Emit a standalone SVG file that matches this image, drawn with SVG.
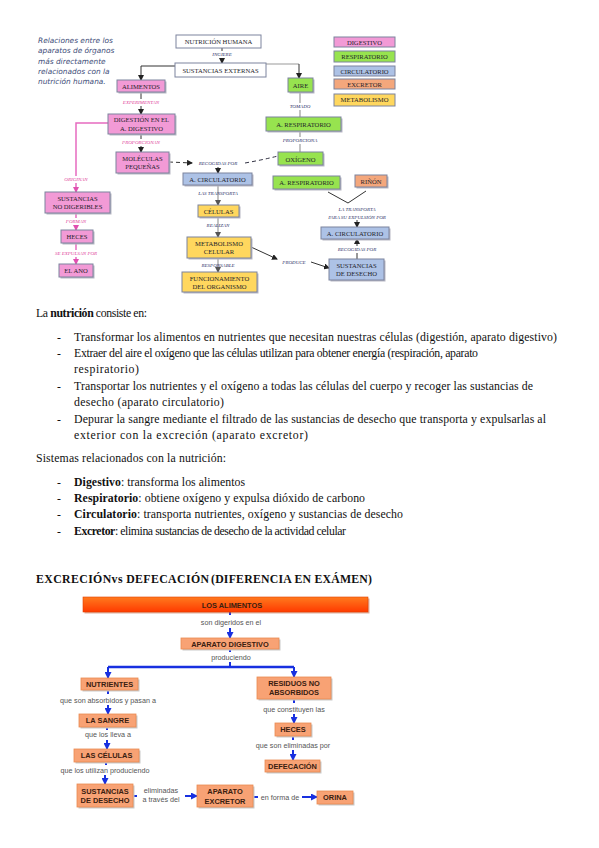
<svg xmlns="http://www.w3.org/2000/svg" width="599" height="848" viewBox="0 0 599 848">
<defs>
<style>
.bx{stroke:#7d849e;stroke-width:1}
.sh{fill:#b8b8c4}
.pk{fill:#f29ad6}
.gr{fill:#97e34f}
.bl{fill:#adc2e6}
.ye{fill:#ffd75e}
.or{fill:#f4a77c}
.wh{fill:#ffffff}
.t{font-family:"Liberation Serif",serif;font-size:6.6px;fill:#1e1e2a;text-anchor:middle}
.lb{font-family:"Liberation Serif",serif;font-style:italic;font-size:5px;fill:#2a2f66;text-anchor:middle}
.lp{font-family:"Liberation Serif",serif;font-style:italic;font-size:5px;fill:#e0409a;text-anchor:middle}
.cap{font-family:"DejaVu Sans",sans-serif;font-style:italic;font-size:7.4px;fill:#3e4d78}
.ln{stroke:#333;stroke-width:1;fill:none}
.lg{stroke:#9a9a9a;stroke-width:1.2;fill:none}
.lpk{stroke:#e66bc0;stroke-width:1.5;fill:none}
.tx{font-family:"Liberation Serif",serif;font-size:11.8px;fill:#111}
.b{font-weight:bold}
.ob{fill:#f8a274;stroke:#e98a52;stroke-width:0.8}
.osh{fill:#c9c9c9}
.bt{font-family:"Liberation Sans",Arial,sans-serif;font-weight:bold;font-size:7.4px;fill:#3a2010;text-anchor:middle}
.bl2{font-family:"Liberation Sans",Arial,sans-serif;font-size:7.2px;fill:#555;text-anchor:middle}
.blu{stroke:#1830e0;stroke-width:2;fill:none}
</style>
<marker id="ak" markerWidth="6" markerHeight="6" refX="5" refY="3" orient="auto" markerUnits="userSpaceOnUse"><path d="M0,0 L6,3 L0,6 z" fill="#222"/></marker>
<marker id="ag" markerWidth="6" markerHeight="6" refX="5" refY="3" orient="auto" markerUnits="userSpaceOnUse"><path d="M0,0 L6,3 L0,6 z" fill="#555"/></marker>
<marker id="ap" markerWidth="6" markerHeight="6" refX="5" refY="3" orient="auto" markerUnits="userSpaceOnUse"><path d="M0,0 L6,3 L0,6 z" fill="#e050b0"/></marker>
<marker id="ab" markerWidth="7" markerHeight="7" refX="6" refY="3.5" orient="auto" markerUnits="userSpaceOnUse"><path d="M0,0 L7,3.5 L0,7 z" fill="#1830e0"/></marker>
<linearGradient id="rg" x1="0" y1="0" x2="0" y2="1"><stop offset="0" stop-color="#ff7a1e"/><stop offset="1" stop-color="#ff3a00"/></linearGradient>
</defs>
<rect width="599" height="848" fill="#ffffff"/>

<!-- caption -->
<g id="caption">
<text class="cap" x="38" y="43">Relaciones entre los</text>
<text class="cap" x="38" y="53">aparatos de órganos</text>
<text class="cap" x="38" y="64">más directamente</text>
<text class="cap" x="38" y="74">relacionados con la</text>
<text class="cap" x="38" y="84">nutrición humana.</text>
</g>

<!-- top connectors -->
<g id="top-connectors">
<line class="ln" x1="222" y1="48" x2="222" y2="63" marker-end="url(#ak)"/>
<polyline class="ln" points="175,66 141,66 141,80" marker-end="url(#ak)"/>
<polyline class="lg" points="266,64 299,64" />
<line class="ln" x1="299" y1="64" x2="299" y2="78" marker-end="url(#ak)"/>
<line class="ln" x1="141" y1="92" x2="141" y2="114" marker-end="url(#ak)"/>
<line class="ln" x1="141" y1="134" x2="141" y2="152" marker-end="url(#ak)"/>
<polyline class="lpk" points="108,123 76,123 76,192" marker-end="url(#ap)"/>
<line class="lpk" x1="76" y1="213" x2="76" y2="230" marker-end="url(#ap)"/>
<line class="lpk" x1="76" y1="243" x2="76" y2="264" marker-end="url(#ap)"/>
<line x1="169" y1="162" x2="192" y2="163" stroke="#333" stroke-width="1" stroke-dasharray="4,3" marker-end="url(#ak)"/>
<path d="M245,163 Q262,160 278,156" stroke="#334" stroke-width="1" fill="none" stroke-dasharray="4,3"/>
<line class="ln" x1="218" y1="167" x2="218" y2="173" marker-end="url(#ak)"/>
<line class="lg" x1="300" y1="92" x2="300" y2="117"/>
<line class="lg" x1="300" y1="131" x2="300" y2="152"/>
<line class="lg" x1="218" y1="185" x2="218" y2="205" marker-end="url(#ag)"/>
<line class="lg" x1="218" y1="217" x2="218" y2="237" marker-end="url(#ag)"/>
<line class="lg" x1="218" y1="258" x2="218" y2="272" marker-end="url(#ag)"/>
<line class="ln" x1="251" y1="247" x2="277" y2="259" marker-end="url(#ak)"/>
<line class="ln" x1="311" y1="262" x2="329" y2="268" marker-end="url(#ak)"/>
<polyline class="ln" points="328,192 348,203 366,191"/>
<line class="ln" x1="357" y1="220" x2="357" y2="227" marker-end="url(#ak)"/>
<line class="ln" x1="357" y1="259" x2="357" y2="239" marker-end="url(#ak)"/>
</g>

<!-- top labels -->
<g id="top-labels">
<rect x="202" y="51" width="40" height="7" fill="#fff"/>
<text class="lb" x="222" y="56">INGIERE</text>
<rect x="116" y="99" width="50" height="7" fill="#fff"/>
<text class="lp" x="141" y="104">EXPERIMENTAN</text>
<rect x="116" y="139" width="50" height="7" fill="#fff"/>
<text class="lp" x="141" y="144">PROPORCIONAN</text>
<rect x="56" y="176" width="40" height="7" fill="#fff"/>
<text class="lp" x="76" y="181">ORIGINAN</text>
<rect x="60" y="218" width="32" height="7" fill="#fff"/>
<text class="lp" x="76" y="223">FORMAN</text>
<rect x="48" y="250" width="56" height="7" fill="#fff"/>
<text class="lp" x="76" y="255">SE EXPULSAN POR</text>
<text class="lb" x="218" y="165">RECOGIDAS POR</text>
<rect x="285" y="103" width="30" height="7" fill="#fff"/>
<text class="lb" x="300" y="108">TOMADO</text>
<rect x="278" y="137" width="44" height="7" fill="#fff"/>
<text class="lb" x="300" y="142">PROPORCIONA</text>
<text class="lb" x="218" y="195">LAS TRANSPORTA</text>
<text class="lb" x="218" y="227">REALIZAN</text>
<text class="lb" x="218" y="267">RESPONSABLE</text>
<text class="lb" x="294" y="264">PRODUCE</text>
<text class="lb" x="357" y="211">LA TRANSPORTA</text>
<text class="lb" x="357" y="219">PARA SU EXPULSIÓN POR</text>
<rect x="333" y="246" width="48" height="7" fill="#fff"/>
<text class="lb" x="357" y="251">RECOGIDAS POR</text>
</g>

<!-- top nodes -->
<g id="n-nutricion"><rect class="bx wh" x="176" y="35" width="85" height="13"/><text class="t" x="218.5" y="44">NUTRICIÓN HUMANA</text></g>
<g id="n-sustancias-ext"><rect class="bx wh" x="175" y="63" width="91" height="14"/><text class="t" x="220.5" y="72.5">SUSTANCIAS EXTERNAS</text></g>
<g id="n-alimentos"><rect class="sh" x="118.5" y="81.5" width="48" height="12"/><rect class="bx pk" x="117" y="80" width="48" height="12"/><text class="t" x="141" y="88.5">ALIMENTOS</text></g>
<g id="n-digestion"><rect class="sh" x="109.5" y="115.5" width="67" height="20"/><rect class="bx pk" x="108" y="114" width="67" height="20"/><text class="t" x="141.5" y="122">DIGESTIÓN EN EL</text><text class="t" x="141.5" y="130.5">A. DIGESTIVO</text></g>
<g id="n-moleculas"><rect class="sh" x="117.5" y="153.5" width="53" height="21"/><rect class="bx pk" x="116" y="152" width="53" height="21"/><text class="t" x="142.5" y="160.5">MOLÉCULAS</text><text class="t" x="142.5" y="169">PEQUEÑAS</text></g>
<g id="n-no-digeribles"><rect class="sh" x="46.5" y="193.5" width="65" height="21"/><rect class="bx pk" x="45" y="192" width="65" height="21"/><text class="t" x="77.5" y="200.5">SUSTANCIAS</text><text class="t" x="77.5" y="209">NO DIGERIBLES</text></g>
<g id="n-heces-top"><rect class="sh" x="62.5" y="231.5" width="32" height="13"/><rect class="bx pk" x="61" y="230" width="32" height="13"/><text class="t" x="77" y="239">HECES</text></g>
<g id="n-ano"><rect class="sh" x="60.5" y="265.5" width="34" height="13"/><rect class="bx pk" x="59" y="264" width="34" height="13"/><text class="t" x="76" y="273">EL ANO</text></g>
<g id="n-aire"><rect class="sh" x="289.5" y="79.5" width="25" height="14"/><rect class="bx gr" x="288" y="78" width="25" height="14"/><text class="t" x="300.5" y="88" font-size="7.5">AIRE</text></g>
<g id="n-resp1"><rect class="sh" x="267.5" y="118.5" width="75" height="14"/><rect class="bx gr" x="266" y="117" width="75" height="14"/><text class="t" x="303.5" y="126.5">A. RESPIRATORIO</text></g>
<g id="n-oxigeno"><rect class="sh" x="279.5" y="153.5" width="45" height="13"/><rect class="bx gr" x="278" y="152" width="45" height="13"/><text class="t" x="300.5" y="161.5">OXÍGENO</text></g>
<g id="n-resp2"><rect class="sh" x="274.5" y="177.5" width="67" height="13"/><rect class="bx gr" x="273" y="176" width="67" height="13"/><text class="t" x="306.5" y="185">A. RESPIRATORIO</text></g>
<g id="n-rinon"><rect class="sh" x="356.5" y="176.5" width="32" height="12"/><rect class="bx or" x="355" y="175" width="32" height="12"/><text class="t" x="371" y="183.5">RIÑÓN</text></g>
<g id="n-circ1"><rect class="sh" x="184.5" y="174.5" width="69" height="12"/><rect class="bx bl" x="183" y="173" width="69" height="12"/><text class="t" x="217.5" y="181.5">A. CIRCULATORIO</text></g>
<g id="n-celulas"><rect class="sh" x="199.5" y="206.5" width="41" height="12"/><rect class="bx ye" x="198" y="205" width="41" height="12"/><text class="t" x="218.5" y="213.5">CÉLULAS</text></g>
<g id="n-metabolismo"><rect class="sh" x="188.5" y="238.5" width="64" height="21"/><rect class="bx ye" x="187" y="237" width="64" height="21"/><text class="t" x="219" y="245.5">METABOLISMO</text><text class="t" x="219" y="254">CELULAR</text></g>
<g id="n-funcionamiento"><rect class="sh" x="183.5" y="273.5" width="75" height="20"/><rect class="bx ye" x="182" y="272" width="75" height="20"/><text class="t" x="219.5" y="280.5">FUNCIONAMIENTO</text><text class="t" x="219.5" y="289">DEL ORGANISMO</text></g>
<g id="n-circ2"><rect class="sh" x="322.5" y="228.5" width="68" height="12"/><rect class="bx bl" x="321" y="227" width="68" height="12"/><text class="t" x="355" y="235.5">A. CIRCULATORIO</text></g>
<g id="n-desecho-top"><rect class="sh" x="330.5" y="260.5" width="55" height="21"/><rect class="bx bl" x="329" y="259" width="55" height="21"/><text class="t" x="356.5" y="267.5">SUSTANCIAS</text><text class="t" x="356.5" y="276">DE DESECHO</text></g>

<!-- legend -->
<g id="legend">
<rect class="bx pk" x="334" y="37" width="61" height="10"/><text class="t" x="364.5" y="44.5">DIGESTIVO</text>
<rect class="bx gr" x="334" y="51" width="61" height="11"/><text class="t" x="364.5" y="59">RESPIRATORIO</text>
<rect class="bx bl" x="334" y="66" width="61" height="10"/><text class="t" x="364.5" y="73.5">CIRCULATORIO</text>
<rect class="bx or" x="334" y="79" width="61" height="10"/><text class="t" x="364.5" y="86.5">EXCRETOR</text>
<rect class="bx ye" x="334" y="94" width="61" height="12"/><text class="t" x="364.5" y="102" font-size="5.2">METABOLISMO</text>
</g>

<!-- body text -->
<g id="body-text">
<text class="tx" x="36" y="317" textLength="111">La <tspan class="b">nutrición</tspan> consiste en:</text>
<text class="tx" x="57" y="341">-</text>
<text class="tx" x="74" y="341" textLength="483">Transformar los alimentos en nutrientes que necesitan nuestras células (digestión, aparato digestivo)</text>
<text class="tx" x="57" y="357">-</text>
<text class="tx" x="74" y="357" textLength="404">Extraer del aire el oxígeno que las células utilizan para obtener energía (respiración, aparato</text>
<text class="tx" x="74" y="373" textLength="65">respiratorio)</text>
<text class="tx" x="57" y="390">-</text>
<text class="tx" x="74" y="390" textLength="459">Transportar los nutrientes y el oxígeno a todas las células del cuerpo y recoger las sustancias de</text>
<text class="tx" x="74" y="406" textLength="150">desecho (aparato circulatorio)</text>
<text class="tx" x="57" y="423">-</text>
<text class="tx" x="74" y="423" textLength="472">Depurar la sangre mediante el filtrado de las sustancias de desecho que transporta y expulsarlas al</text>
<text class="tx" x="74" y="439" textLength="234">exterior con la excreción (aparato excretor)</text>
<text class="tx" x="36" y="462" textLength="190">Sistemas relacionados con la nutrición:</text>
<text class="tx" x="57" y="486">-</text>
<text class="tx" x="74" y="486" textLength="171"><tspan class="b">Digestivo</tspan>: transforma los alimentos</text>
<text class="tx" x="57" y="502">-</text>
<text class="tx" x="74" y="502" textLength="291"><tspan class="b">Respiratorio</tspan>: obtiene oxígeno y expulsa dióxido de carbono</text>
<text class="tx" x="57" y="518">-</text>
<text class="tx" x="74" y="518" textLength="329"><tspan class="b">Circulatorio</tspan>: transporta nutrientes, oxígeno y sustancias de desecho</text>
<text class="tx" x="57" y="535">-</text>
<text class="tx" x="74" y="535" textLength="272"><tspan class="b">Excretor</tspan>: elimina sustancias de desecho de la actividad celular</text>
<text class="tx b" x="36" y="583" font-size="12.5" textLength="173">EXCRECIÓNvs DEFECACIÓN</text>
<text class="tx b" x="211" y="583" font-size="12.5" fill="#ff1a1a" textLength="161">(DIFERENCIA EN EXÁMEN)</text>
</g>

<!-- bottom connectors -->
<g id="bottom-connectors">
<line class="blu" x1="230" y1="612" x2="230" y2="615"/>
<line class="blu" x1="230" y1="628" x2="230" y2="638" marker-end="url(#ab)"/>
<line class="blu" x1="230" y1="649" x2="230" y2="652"/>
<polyline class="blu" points="230,662 230,667" />
<line x1="108" y1="667" x2="294" y2="667" stroke="#1830e0" stroke-width="2.6"/>
<line class="blu" x1="108" y1="667" x2="108" y2="678" marker-end="url(#ab)"/>
<line class="blu" x1="294" y1="667" x2="294" y2="677" marker-end="url(#ab)"/>
<line class="blu" x1="108" y1="690" x2="108" y2="694"/>
<line class="blu" x1="108" y1="705" x2="108" y2="714" marker-end="url(#ab)"/>
<line class="blu" x1="107" y1="727" x2="107" y2="730"/>
<line class="blu" x1="107" y1="740" x2="107" y2="749" marker-end="url(#ab)"/>
<line class="blu" x1="106" y1="762" x2="106" y2="765"/>
<line class="blu" x1="105" y1="775" x2="105" y2="784" marker-end="url(#ab)"/>
<line class="blu" x1="294" y1="699" x2="294" y2="703"/>
<line class="blu" x1="294" y1="714" x2="294" y2="723" marker-end="url(#ab)"/>
<line class="blu" x1="293" y1="736" x2="293" y2="740"/>
<line class="blu" x1="293" y1="750" x2="293" y2="760" marker-end="url(#ab)"/>
<line class="blu" x1="133" y1="796" x2="137" y2="796"/>
<line class="blu" x1="185" y1="796" x2="197" y2="796" marker-end="url(#ab)"/>
<line class="blu" x1="253" y1="797" x2="258" y2="797"/>
<line class="blu" x1="302" y1="797" x2="317" y2="797" marker-end="url(#ab)"/>
</g>

<!-- bottom labels -->
<g id="bottom-labels">
<text class="bl2" x="231" y="624.5">son digeridos en el</text>
<text class="bl2" x="231" y="659.5">produciendo</text>
<text class="bl2" x="108" y="702.5">que son absorbidos y pasan a</text>
<text class="bl2" x="108" y="737">que los lleva a</text>
<text class="bl2" x="105" y="772.5">que los utilizan produciendo</text>
<text class="bl2" x="294" y="711.5">que constituyen las</text>
<text class="bl2" x="293" y="747.5">que son eliminadas por</text>
<text class="bl2" x="161" y="793">eliminadas</text>
<text class="bl2" x="161" y="802">a través del</text>
<text class="bl2" x="280" y="800">en forma de</text>
</g>

<!-- bottom nodes -->
<g id="b-alimentos"><rect x="84.5" y="598.5" width="285" height="15" fill="#c06040" opacity="0.5"/><rect x="83" y="597" width="285" height="15" fill="url(#rg)" stroke="#e04000" stroke-width="0.6"/><text class="bt" x="232" y="607.5" font-size="8" fill="#2a0a00">LOS ALIMENTOS</text></g>
<g id="b-aparato-dig"><rect class="osh" x="182.5" y="639.5" width="98" height="11"/><rect class="ob" x="181" y="638" width="98" height="11"/><text class="bt" x="230" y="646.5">APARATO DIGESTIVO</text></g>
<g id="b-nutrientes"><rect class="osh" x="82.5" y="679.5" width="57" height="12"/><rect class="ob" x="81" y="678" width="57" height="12"/><text class="bt" x="109.5" y="686.8">NUTRIENTES</text></g>
<g id="b-residuos"><rect class="osh" x="258.5" y="678.5" width="74" height="22"/><rect class="ob" x="257" y="677" width="74" height="22"/><text class="bt" x="294" y="686">RESIDUOS NO</text><text class="bt" x="294" y="695">ABSORBIDOS</text></g>
<g id="b-sangre"><rect class="osh" x="80.5" y="715.5" width="57" height="13"/><rect class="ob" x="79" y="714" width="57" height="13"/><text class="bt" x="107.5" y="723.3">LA SANGRE</text></g>
<g id="b-celulas"><rect class="osh" x="75.5" y="750.5" width="65" height="13"/><rect class="ob" x="74" y="749" width="65" height="13"/><text class="bt" x="106.5" y="758.3">LAS CÉLULAS</text></g>
<g id="b-desecho"><rect class="osh" x="78.5" y="785.5" width="56" height="23"/><rect class="ob" x="77" y="784" width="56" height="23"/><text class="bt" x="105" y="793.5">SUSTANCIAS</text><text class="bt" x="105" y="803">DE DESECHO</text></g>
<g id="b-heces"><rect class="osh" x="276.5" y="724.5" width="36" height="13"/><rect class="ob" x="275" y="723" width="36" height="13"/><text class="bt" x="293" y="732.3">HECES</text></g>
<g id="b-defecacion"><rect class="osh" x="266.5" y="761.5" width="55" height="12"/><rect class="ob" x="265" y="760" width="55" height="12"/><text class="bt" x="292.5" y="768.8">DEFECACIÓN</text></g>
<g id="b-excretor"><rect class="osh" x="198.5" y="786.5" width="56" height="22"/><rect class="ob" x="197" y="785" width="56" height="22"/><text class="bt" x="225" y="794">APARATO</text><text class="bt" x="225" y="803.5">EXCRETOR</text></g>
<g id="b-orina"><rect class="osh" x="318.5" y="792.5" width="36" height="13"/><rect class="ob" x="317" y="791" width="36" height="13"/><text class="bt" x="335" y="800.3">ORINA</text></g>
</svg>
